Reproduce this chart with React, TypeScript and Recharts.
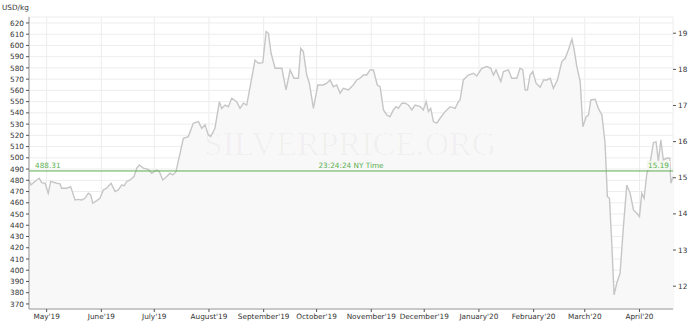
import { ComposedChart, Area, XAxis, YAxis, CartesianGrid, ReferenceLine } from "recharts";

// day offsets counted from 2019-04-21, prices in USD/kg
const days = [
  0, 1.1, 4.4, 5.8, 7.2, 9.1, 10.9, 12.3, 15.7, 17.6, 18.5, 21.4, 23.6, 26.1, 27.9, 29.9,
  31.7, 33.6, 35, 36.1, 38.4, 40.2, 42.1, 44, 46.5, 48.8, 50.6, 52.6, 53.9, 55.4, 57.3, 59.5,
  61.1, 62.5, 64.8, 67.6, 69.6, 72.4, 73.9, 75.8, 78.1, 79.9, 81.5, 83.3, 85.6, 87.5, 90.3,
  93.1, 96, 97.9, 99.8, 101.6, 103, 105.4, 107.9, 109.2, 111.1, 113, 114.9, 117.7, 119.6,
  121.5, 123.4, 126.2, 128.1, 130, 132.5, 134.4, 135.7, 137.2, 139.5, 143.3, 145.7, 148,
  150.2, 152.7, 154, 155.5, 157.4, 158.9, 161.2, 163.7, 166.8, 168.8, 170.6, 172.5, 174.4,
  176.3, 178.2, 181, 183.8, 185.8, 187.6, 189.5, 191.4, 193.3, 195.2, 197.4, 199, 200.9,
  202.8, 204.6, 206.5, 208, 209.4, 211.3, 213.2, 215, 217, 218.8, 221.7, 223.5, 225.1,
  226.4, 227.7, 229.2, 231.1, 233, 235.8, 238.7, 241.5, 243.4, 244.3, 246.2, 249, 251.9,
  253.8, 256.6, 259.5, 261.7, 263.2, 264.7, 267.4, 268.9, 271.7, 273.6, 276.5, 278.3,
  279.9, 281.2, 282.5, 284, 285.5, 287.4, 289.7, 291.6, 293.5, 295.4, 297.2, 299.5, 302,
  303.9, 305.7, 307.7, 309, 310.5, 312.4, 313.9, 315.8, 317.1, 318.4, 320.9, 322.7, 324.7,
  326.5, 327.8, 329, 330.3, 331.6, 333.1, 335, 336.9, 338.8, 340.7, 342.6, 344.5, 346,
  347.3, 348.6, 350.2, 352, 353.9, 355.4, 356.7, 358.1, 359.5, 361.5, 363.1, 363.8, 365,
];

const priceUsdKg = [
  480, 476, 480.3, 481.8, 477.9, 477.4, 468.5, 479, 477.4, 476.8, 473, 473, 474.4, 462.5, 463, 462.5,
  464, 468.5, 467, 459.6, 461.9, 464, 471.4, 473, 477.4, 470, 471.4, 476, 475, 479, 480.3, 483.3,
  490.8, 493.7, 490.8, 489.8, 486.3, 489.2, 487.7, 480.3, 483.3, 486.3, 484.8, 487.7, 504, 517.4, 518.9,
  530.8, 532.2, 526.3, 529.3, 520.4, 518.9, 526.3, 550, 544, 547, 545.5, 553, 550, 544,
  548.6, 547, 570.8, 587, 584.1, 584.7, 612.3, 610.8, 593, 579.7, 579.7, 560.4, 578.2,
  570.8, 570.8, 597.5, 594.5, 573.7, 566.4, 544, 564.8, 564.8, 566.4, 569.3, 563.3, 564.8,
  557.4, 561.9, 560.4, 564.8, 569.3, 570.8, 573.7, 573.7, 578.2, 578.2, 564.8, 563.3, 542.6,
  538.1, 536.6, 542.6, 545.5, 544, 548.6, 548.6, 547, 542.6, 547, 545.5, 542.6, 550,
  541.1, 544, 532.2, 530.8, 535.2, 541.1, 545.5, 544, 550, 551.5, 569.3, 573.7, 575.2,
  572.8, 579.7, 581.2, 579.7, 573.7, 578.2, 567.8, 576.7, 578.2, 570.8, 570.8, 579.7,
  578.2, 560.4, 560.4, 573.7, 576.7, 566.4, 562.8, 569.3, 569.3, 570.8, 561.9, 569.3, 585.6,
  588.6, 596, 605.5, 596, 581.2, 567.8, 527.7, 536.6, 538.1, 551.5, 552.1, 544, 538.1,
  513, 465.5, 464, 424, 378, 388.4, 397.3, 438.8, 475.8, 468.5, 453.6, 450.7, 447.7,
  468.5, 464, 486.3, 495.2, 513.5, 514.4, 496.6, 515.9, 498.1, 499.6, 499.6, 477.4, 483.3,
];

const monthStarts = [10, 41, 71, 102, 133, 163, 194, 224, 255, 286, 315, 346];
const monthLabels = [
  "May'19", "June'19", "July'19", "August'19", "September'19", "October'19",
  "November'19", "December'19", "January'20", "February'20", "March'20", "April'20",
];

const kgTicks = [370, 380, 390, 400, 410, 420, 430, 440, 450, 460, 470, 480, 490, 500, 510, 520,
  530, 540, 550, 560, 570, 580, 590, 600, 610, 620];
const ozTicks = [12, 13, 14, 15, 16, 17, 18, 19];

const currentKg = 488.31;
const currentOz = 15.19;
const timeLabel = "23:24:24 NY Time";

const KG_PER_OZ = 32.1507;
const kgDomain = [365.5, 625.3];
const ozDomain = [kgDomain[0] / KG_PER_OZ, kgDomain[1] / KG_PER_OZ];

const rows = days.map((d, i) => ({ day: d, price: priceUsdKg[i] }));

const FONT = "'DejaVu Sans', sans-serif";
const tickStyle = { fill: "#333", fontSize: 7.3, fontFamily: FONT };
const GREEN = "#5aae4f";

function CurrentLabel(props: any) {
  const { x, y, width } = props.viewBox || {};
  return (
    <g fontFamily={FONT} fontSize={7.3} fill={GREEN}>
      <text x={x + 6} y={y - 3}>{currentKg.toFixed(2)}</text>
      <text x={x + width / 2} y={y - 3} textAnchor="middle">{timeLabel}</text>
      <rect x={x + width - 26} y={y - 10} width={23} height={9} fill="#f2f8f0" />
      <text x={x + width - 4} y={y - 3} textAnchor="end">{currentOz.toFixed(2)}</text>
    </g>
  );
}

export default function App() {
  return (
    <div style={{ position: "absolute", left: 0, top: 0, width: 698, height: 334, background: "#fff" }}>
      <ComposedChart width={698} height={334} data={rows} margin={{ top: 17, right: 0, bottom: 0, left: 0 }}>
        <CartesianGrid yAxisId="kg" stroke="#ededed" />
        <XAxis
          type="number"
          dataKey="day"
          domain={[0, 365]}
          ticks={monthStarts}
          tickFormatter={(v: number) => monthLabels[monthStarts.indexOf(v)]}
          interval={0}
          height={25}
          tick={tickStyle}
          tickSize={3}
          axisLine={{ stroke: "#999" }}
          tickLine={{ stroke: "#555" }}
          allowDataOverflow
        />
        <YAxis
          yAxisId="kg"
          orientation="left"
          domain={kgDomain}
          ticks={kgTicks}
          interval={0}
          width={29}
          tick={tickStyle}
          tickSize={3}
          tickMargin={2}
          axisLine={{ stroke: "#999" }}
          tickLine={{ stroke: "#555" }}
          allowDataOverflow
        />
        <YAxis
          yAxisId="oz"
          orientation="right"
          domain={ozDomain}
          ticks={ozTicks}
          interval={0}
          width={25}
          tick={tickStyle}
          tickSize={3}
          tickMargin={2}
          axisLine={false}
          tickLine={{ stroke: "#555" }}
          allowDataOverflow
        />
        <Area
          yAxisId="kg"
          type="linear"
          dataKey="price"
          stroke="#c6c6c6"
          strokeWidth={1.4}
          fill="#f8f8f8"
          fillOpacity={1}
          dot={false}
          activeDot={false}
          isAnimationActive={false}
        />
        <ReferenceLine yAxisId="kg" y={currentKg} stroke={GREEN} strokeWidth={1} label={CurrentLabel} />
      </ComposedChart>
      <svg width={698} height={334} style={{ position: "absolute", left: 0, top: 0, pointerEvents: "none" }}>
        <text x={2} y={10} fontFamily={FONT} fontSize={7.3} fill="#333">USD/kg</text>
        <text x={350} y={155} textAnchor="middle" fontFamily="'Liberation Serif', serif" fontSize={34}
          fill="#000" fillOpacity={0.03}>SILVERPRICE.ORG</text>
      </svg>
    </div>
  );
}
